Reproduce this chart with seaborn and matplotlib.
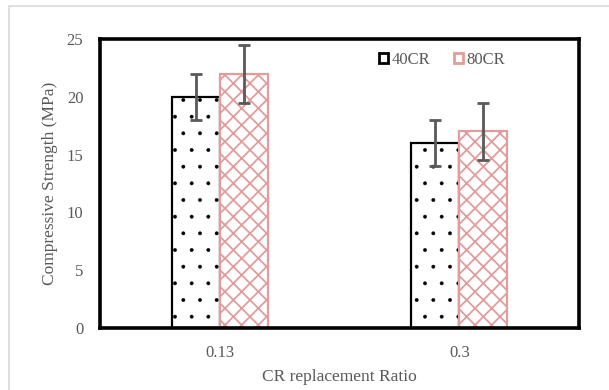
import matplotlib
matplotlib.use("Agg")
import matplotlib.pyplot as plt
import seaborn as sns
import pandas as pd
from matplotlib.patches import Patch, Rectangle

# Data
ratios = ["0.13", "0.3"]
series = ["40CR", "80CR"]
strength_40cr = [20, 16]
strength_80cr = [22, 17]
err_40cr = [2, 2]
err_80cr = [2.5, 2.5]

sns.set_theme(style="white")
plt.rcParams["font.family"] = ["Liberation Serif", "DejaVu Serif"]
plt.rcParams["hatch.linewidth"] = 1.2

TEXT = "#595959"
PINK = "#E29C9C"
edge_colors = {"40CR": "black", "80CR": PINK}
hatches = {"40CR": ".", "80CR": "xx"}
hatch_widths = {"40CR": 0.3, "80CR": 1.3}

df = pd.DataFrame({
    "ratio": ratios * 2,
    "series": ["40CR"] * len(ratios) + ["80CR"] * len(ratios),
    "strength": strength_40cr + strength_80cr,
    "err": err_40cr + err_80cr,
})

fig = plt.figure(figsize=(6.09, 3.90), dpi=100)
ax = fig.add_axes([100 / 609, 1 - 328 / 390, 479 / 609, 289 / 390])

sns.barplot(data=df, x="ratio", y="strength", hue="series", order=ratios,
            hue_order=series, width=0.4, errorbar=None, ax=ax,
            palette={"40CR": "white", "80CR": "white"}, legend=False)

# style each bar and add its error bar
for container, name in zip(ax.containers, series):
    sub = df[df["series"] == name].set_index("ratio").loc[ratios]
    xs = []
    for bar in container:
        bar.set_facecolor("white")
        bar.set_edgecolor(edge_colors[name])
        bar.set_linewidth(1.6)
        bar.set_hatch(hatches[name])
        if hasattr(bar, "set_hatch_linewidth"):
            bar.set_hatch_linewidth(hatch_widths[name])
        xs.append(bar.get_x() + bar.get_width() / 2)
    ax.errorbar(xs, sub["strength"].values, yerr=sub["err"].values, fmt="none",
                ecolor="#595959", elinewidth=2, capsize=4.5, capthick=2, zorder=5)

ax.set_xlim(-0.5, len(ratios) - 0.5)
ax.set_ylim(0, 25)
ax.set_yticks([0, 5, 10, 15, 20, 25])
ax.tick_params(axis="both", length=0, labelsize=12, colors=TEXT)
ax.tick_params(axis="x", pad=12)
ax.tick_params(axis="y", pad=12)
for s in ax.spines.values():
    s.set_color("black")
    s.set_linewidth(2.6)

ax.set_xlabel("CR replacement Ratio", fontsize=12.5, color=TEXT, labelpad=6)
ax.set_ylabel("Compressive Strength (MPa)", fontsize=12.5, color=TEXT, labelpad=6)

handles = [Patch(facecolor="white", edgecolor=edge_colors[n], linewidth=2, label=n)
           for n in series]
leg = ax.legend(handles=handles, ncol=2, frameon=False, loc="center",
                bbox_to_anchor=(442 / 609, 1 - 60 / 390),
                bbox_transform=fig.transFigure, fontsize=12,
                handlelength=0.55, handleheight=0.55, handletextpad=0.2,
                columnspacing=1.4)
for t in leg.get_texts():
    t.set_color(TEXT)

# outer chart border
fig.patches.append(Rectangle((9 / 609, -0.1), 1.2, 1 - 6 / 390 + 0.1,
                             transform=fig.transFigure, fill=False,
                             edgecolor="#d9d9d9", linewidth=1.2))

fig.savefig("out.png", dpi=100)
